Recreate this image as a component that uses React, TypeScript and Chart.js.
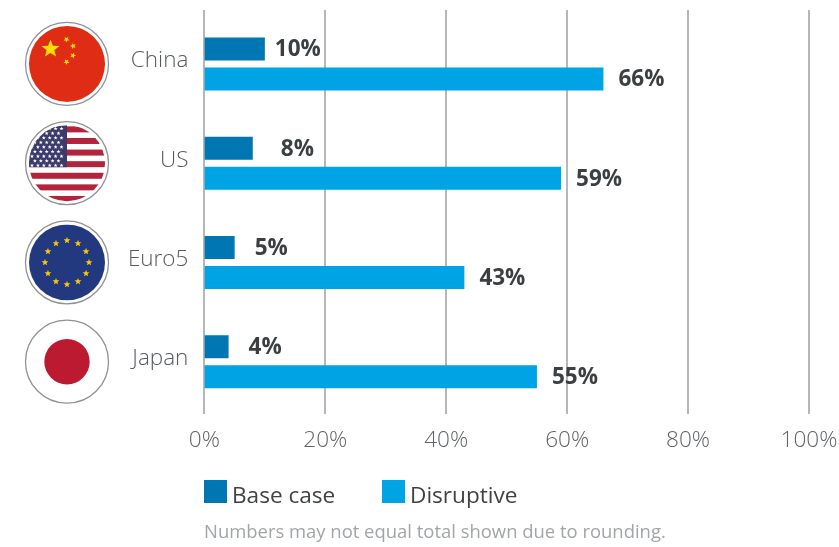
import React, { useEffect, useRef } from "react";
import { Chart, registerables } from "chart.js";

Chart.register(...registerables);

const categories = ["China", "US", "Euro5", "Japan"];
const baseCase = [10, 8, 5, 4];
const disruptive = [66, 59, 43, 55];
const seriesNames = ["Base case", "Disruptive"];
const footnote = "Numbers may not equal total shown due to rounding.";

const BASE_COLOR = "#0076b3";
const DISRUPT_COLOR = "#00a3e3";
const FONT = '"Open Sans", sans-serif';
const baseLabelGap = [10, 28, 20, 20];
const disruptLabelGap = [15, 15, 15, 15];

function star(ctx: CanvasRenderingContext2D, x: number, y: number, r: number, rot = -Math.PI / 2) {
  ctx.beginPath();
  for (let i = 0; i < 10; i++) {
    const rad = i % 2 === 0 ? r : r * 0.42;
    const a = rot + (i * Math.PI) / 5;
    ctx.lineTo(x + rad * Math.cos(a), y + rad * Math.sin(a));
  }
  ctx.closePath();
  ctx.fill();
}

function drawFlag(ctx: CanvasRenderingContext2D, name: string, cx: number, cy: number) {
  const R = 38;
  ctx.save();
  ctx.beginPath();
  ctx.arc(cx, cy, 41.5, 0, Math.PI * 2);
  ctx.strokeStyle = "#8f9194";
  ctx.lineWidth = 1.3;
  ctx.fillStyle = "#ffffff";
  ctx.fill();
  ctx.stroke();
  if (name === "Japan") {
    ctx.beginPath();
    ctx.arc(cx, cy, 22.7, 0, Math.PI * 2);
    ctx.fillStyle = "#bb1a30";
    ctx.fill();
    ctx.restore();
    return;
  }
  ctx.beginPath();
  ctx.arc(cx, cy, R, 0, Math.PI * 2);
  ctx.clip();
  if (name === "China") {
    ctx.fillStyle = "#df2c14";
    ctx.fillRect(cx - R, cy - R, 2 * R, 2 * R);
    ctx.fillStyle = "#ffde00";
    star(ctx, cx - 16.5, cy - 15, 9.5);
    star(ctx, cx - 0.5, cy - 24.5, 3.2, -1.0);
    star(ctx, cx + 6, cy - 18, 3.2, -1.9);
    star(ctx, cx + 6, cy - 8.5, 3.2, -1.2);
    star(ctx, cx - 0.5, cy - 2, 3.2, -0.9);
  } else if (name === "US") {
    ctx.fillStyle = "#ffffff";
    ctx.fillRect(cx - R, cy - R, 2 * R, 2 * R);
    ctx.fillStyle = "#b1243c";
    for (let k = -3; k <= 3; k++) {
      ctx.fillRect(cx - R, cy + 1 + k * 11.6 - 3, 2 * R, 6);
    }
    ctx.fillStyle = "#3c3b6e";
    ctx.fillRect(cx - R, cy - R, R, R + 4);
    ctx.fillStyle = "#ffffff";
    for (let row = 0; row < 9; row++) {
      const n = row % 2 === 0 ? 6 : 5;
      const off = row % 2 === 0 ? 0 : 2.9;
      for (let i = 0; i < n; i++) {
        star(ctx, cx - 35 + off + i * 5.9, cy - 34.5 + row * 4.6, 2.1);
      }
    }
  } else {
    ctx.fillStyle = "#22397f";
    ctx.fillRect(cx - R, cy - R, 2 * R, 2 * R);
    ctx.fillStyle = "#fcc70a";
    for (let i = 0; i < 12; i++) {
      const a = (i * Math.PI) / 6;
      star(ctx, cx + 22 * Math.sin(a), cy - 22 * Math.cos(a), 3.6);
    }
  }
  ctx.restore();
}

const decorations = {
  id: "decorations",
  beforeDatasetsDraw(chart: any) {
    const { ctx } = chart;
    const x = chart.scales.x;
    ctx.save();
    for (let v = 0; v <= 100; v += 20) {
      const px = Math.round(x.getPixelForValue(v));
      ctx.beginPath();
      ctx.moveTo(px, 10);
      ctx.lineTo(px, 414);
      ctx.strokeStyle = "#9d9fa1";
      ctx.lineWidth = 1.5;
      ctx.stroke();
    }
    ctx.restore();
  },
  afterDatasetsDraw(chart: any) {
    const { ctx } = chart;
    const y = chart.scales.y;
    ctx.save();
    categories.forEach((c, i) => drawFlag(ctx, c, 67, y.getPixelForValue(i)));

    ctx.font = `700 22.5px ${FONT}`;
    ctx.fillStyle = "#3c3f41";
    ctx.textBaseline = "middle";
    ctx.textAlign = "left";
    const gaps = [baseLabelGap, disruptLabelGap];
    [baseCase, disruptive].forEach((vals, d) => {
      const meta = chart.getDatasetMeta(d);
      vals.forEach((v, i) => {
        const el = meta.data[i];
        ctx.fillText(`${v}%`, el.x + gaps[d][i], el.y + 1);
      });
    });

    // legend
    const boxes = [204, 382];
    ctx.font = `400 22.6px ${FONT}`;
    seriesNames.forEach((name, i) => {
      ctx.fillStyle = chart.data.datasets[i].backgroundColor;
      ctx.fillRect(boxes[i], 480, 23, 23);
      ctx.fillStyle = "#3f4244";
      ctx.fillText(name, boxes[i] + 28, 497);
    });

    ctx.font = `400 18.45px ${FONT}`;
    ctx.fillStyle = "#a2a5a7";
    ctx.fillText(footnote, 204, 533);
    ctx.restore();
  },
};

export default function App() {
  const ref = useRef<HTMLCanvasElement>(null);
  useEffect(() => {
    document.body.style.margin = "0";
    const chart = new Chart(ref.current!, {
      type: "bar",
      data: {
        labels: categories,
        datasets: [
          { label: seriesNames[0], data: baseCase, backgroundColor: BASE_COLOR, categoryPercentage: 0.604, barPercentage: 0.767 },
          { label: seriesNames[1], data: disruptive, backgroundColor: DISRUPT_COLOR, categoryPercentage: 0.604, barPercentage: 0.767 },
        ],
      },
      options: {
        indexAxis: "y",
        animation: false,
        responsive: false,
        layout: { padding: { top: 14.3, right: 30, left: 0, bottom: 0 } },
        plugins: { legend: { display: false }, tooltip: { enabled: false } },
        scales: {
          x: {
            min: 0,
            max: 100,
            grid: { display: false },
            border: { display: false },
            afterFit(s: any) { s.height = 135.7; s.paddingLeft = 0; s.paddingRight = 0; },
            ticks: {
              stepSize: 20,
              maxRotation: 0,
              autoSkip: false,
              padding: 8,
              color: "#606366",
              font: { family: FONT, size: 22.6, weight: "300" },
              callback: (v: any) => `${v}%`,
            },
          },
          y: {
            grid: { display: false },
            border: { display: false },
            afterFit(s: any) { s.width = 204.4; s.paddingTop = 0; s.paddingBottom = 0; },
            ticks: {
              padding: 8,
              labelOffset: -3,
              color: "#565a5d",
              font: { family: FONT, size: 22.5, weight: "300" },
            },
          },
        },
      },
      plugins: [decorations],
    } as any);
    return () => chart.destroy();
  }, []);
  return <canvas ref={ref} width={839} height={547} style={{ display: "block", width: 839, height: 547 }} />;
}
